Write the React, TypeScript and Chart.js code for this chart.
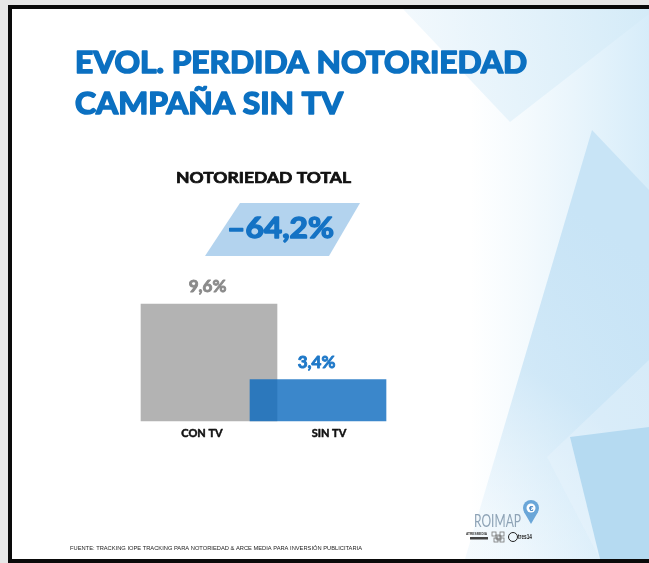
import React, { useEffect, useRef } from "react";
import { Chart, registerables } from "chart.js";

Chart.register(...registerables);

const categories = ["CON TV", "SIN TV"];
const values = [9.6, 3.4];
const valueLabels = ["9,6%", "3,4%"];
const changeLabel = "-64,2%";
const titleLines = ["EVOL. PERDIDA NOTORIEDAD", "CAMPAÑA SIN TV"];
const subtitle = "NOTORIEDAD TOTAL";
const footer = "FUENTE: TRACKING IOPE TRACKING PARA NOTORIEDAD & ARCE MEDIA PARA INVERSIÓN PUBLICITARIA";

const W = 649;
const H = 563;

function fitText(
  ctx: CanvasRenderingContext2D,
  text: string,
  x: number,
  y: number,
  width: number,
  font: string,
  color: string,
  stroke = 0
) {
  ctx.save();
  ctx.font = font;
  ctx.fillStyle = color;
  ctx.textAlign = "left";
  ctx.textBaseline = "alphabetic";
  const w = ctx.measureText(text).width || 1;
  ctx.translate(x, y);
  ctx.scale(width / w, 1);
  if (stroke > 0) {
    ctx.strokeStyle = color;
    ctx.lineWidth = stroke;
    ctx.lineJoin = "round";
    ctx.strokeText(text, 0, 0);
  }
  ctx.fillText(text, 0, 0);
  ctx.restore();
}

function centerText(ctx: CanvasRenderingContext2D, text: string, x: number, y: number, font: string, color: string, stroke = 0) {
  ctx.save();
  ctx.font = font;
  ctx.fillStyle = color;
  ctx.textAlign = "center";
  ctx.textBaseline = "alphabetic";
  if (stroke > 0) {
    ctx.strokeStyle = color;
    ctx.lineWidth = stroke;
    ctx.lineJoin = "round";
    ctx.strokeText(text, x, y);
  }
  ctx.fillText(text, x, y);
  ctx.restore();
}

function poly(ctx: CanvasRenderingContext2D, pts: number[][], fill: any) {
  ctx.beginPath();
  pts.forEach((p, i) => (i ? ctx.lineTo(p[0], p[1]) : ctx.moveTo(p[0], p[1])));
  ctx.closePath();
  ctx.fillStyle = fill;
  ctx.fill();
}

const slidePlugin = {
  id: "slide",
  beforeDraw(chart: any) {
    const ctx: CanvasRenderingContext2D = chart.ctx;
    ctx.save();
    // outer frame
    ctx.fillStyle = "#e7e7e7";
    ctx.fillRect(0, 0, W, H);
    ctx.fillStyle = "#0a0a0a";
    ctx.fillRect(8, 5, W - 8, 558);
    ctx.fillStyle = "#ffffff";
    ctx.fillRect(12, 9, W - 12, 550);
    ctx.beginPath();
    ctx.rect(12, 9, W - 12, 550);
    ctx.clip();

    // right-side soft band
    const band = ctx.createLinearGradient(470, 0, W, 0);
    band.addColorStop(0, "rgba(220,239,250,0)");
    band.addColorStop(1, "rgba(212,235,249,0.95)");
    ctx.fillStyle = band;
    ctx.fillRect(470, 9, W - 470, 550);

    // top triangle
    const gA = ctx.createLinearGradient(403, 60, 649, 20);
    gA.addColorStop(0, "#f3f9fd");
    gA.addColorStop(1, "#d4ebf8");
    poly(ctx, [[403, 9], [510, 122], [649, 14], [649, 9]], gA);

    // large triangle
    const gB = ctx.createLinearGradient(470, 520, 649, 260);
    gB.addColorStop(0, "rgba(220,238,250,0.3)");
    gB.addColorStop(0.5, "rgba(200,228,246,0.8)");
    gB.addColorStop(1, "#c8e4f6");
    poly(ctx, [[592, 130], [649, 190], [649, 559], [465, 559]], gB);

    // lighter wedge
    poly(ctx, [[649, 360], [547, 457], [600, 559], [649, 559]], "rgba(235,245,252,0.4)");

    // bottom triangle
    poly(ctx, [[570, 437], [649, 427], [649, 559], [600, 559]], "#b5daf1");

    // title
    fitText(ctx, titleLines[0], 75, 73, 452, "bold 30px Lato", "#0b70c1", 1.6);
    fitText(ctx, titleLines[1], 75, 114, 268, "bold 30px Lato", "#0b70c1", 1.6);

    // subtitle
    fitText(ctx, subtitle, 176, 183, 175, "bold 15px Lato", "#111111", 0.7);

    // parallelogram with change label
    poly(ctx, [[240, 203], [360, 203], [329, 256], [205, 256]], "#b3d3ee");
    fitText(ctx, changeLabel.replace("-", "–"), 227, 238, 107, "bold 28px Lato", "#1472c4", 1.4);

    // footer
    fitText(ctx, footer, 70, 550, 292, "5.5px Arial", "#222222");

    // logo ROIMAP
    fitText(ctx, "ROIMAP", 474, 527, 47, "18px Lato", "#8ea3b6");
    ctx.beginPath();
    ctx.moveTo(524, 512);
    ctx.lineTo(531, 524);
    ctx.lineTo(538, 512);
    ctx.closePath();
    ctx.fillStyle = "#6aa6d8";
    ctx.fill();
    ctx.beginPath();
    ctx.arc(531, 508, 8, 0, Math.PI * 2);
    ctx.fill();
    ctx.beginPath();
    ctx.arc(531, 508, 4.5, 0, Math.PI * 2);
    ctx.fillStyle = "#ffffff";
    ctx.fill();
    fitText(ctx, "€", 529, 511, 4.5, "bold 7px Arial", "#3d7fc0");
    fitText(ctx, "ATRESMEDIA", 466, 535, 21, "bold 3px Arial", "#333333");
    ctx.fillStyle = "#444";
    ctx.fillRect(470, 537, 18, 2.5);
    ctx.strokeStyle = "#777";
    ctx.lineWidth = 0.8;
    for (let i = 0; i < 3; i++) {
      ctx.strokeRect(492 + i * 4, 532 + (i % 2) * 3, 4, 4);
      ctx.strokeRect(494 + i * 3, 538 - (i % 2) * 2, 4, 4);
    }
    ctx.beginPath();
    ctx.arc(513, 537, 4.5, 0, Math.PI * 2);
    ctx.strokeStyle = "#222";
    ctx.lineWidth = 1;
    ctx.stroke();
    fitText(ctx, "tres14", 518, 539, 14, "bold 7px Arial", "#222222");
    ctx.restore();
  },
  afterDatasetsDraw(chart: any) {
    const ctx: CanvasRenderingContext2D = chart.ctx;
    const meta = chart.getDatasetMeta(0);
    const xs = chart.scales.x;
    const valueColors = ["#8a8a8a", "#1e78c8"];
    const labelShift = [-7, 11];
    meta.data.forEach((bar: any, i: number) => {
      centerText(ctx, valueLabels[i], bar.x - 1.5, bar.y - 12, "bold 17px Lato", valueColors[i], 0.9);
      centerText(ctx, categories[i], xs.getPixelForValue(i) + labelShift[i], chart.chartArea.bottom + 15.5, "bold 11px Lato", "#111111", 0.5);
    });
  },
};

export default function App() {
  const ref = useRef<HTMLCanvasElement>(null);
  useEffect(() => {
    document.body.style.margin = "0";
    const chart = new Chart(ref.current as HTMLCanvasElement, {
      type: "bar",
      data: {
        labels: categories,
        datasets: [
          {
            data: values,
            backgroundColor: ["#b3b3b3", "rgba(10,105,190,0.8)"],
            borderWidth: 0,
            barThickness: 136,
            clip: false as any,
          },
        ],
      },
      options: {
        animation: false,
        responsive: false,
        devicePixelRatio: 1,
        layout: { padding: { left: 154.5, right: 276.5, top: 274.75, bottom: 142 } },
        plugins: { legend: { display: false }, tooltip: { enabled: false }, title: { display: false } },
        scales: {
          x: { display: false, offset: true },
          y: { display: false, min: 0, max: 12 },
        },
      },
      plugins: [slidePlugin],
    });
    return () => chart.destroy();
  }, []);
  return (
    <canvas
      ref={ref}
      width={W}
      height={H}
      style={{ position: "fixed", left: 0, top: 0, width: W, height: H, display: "block" }}
    />
  );
}
